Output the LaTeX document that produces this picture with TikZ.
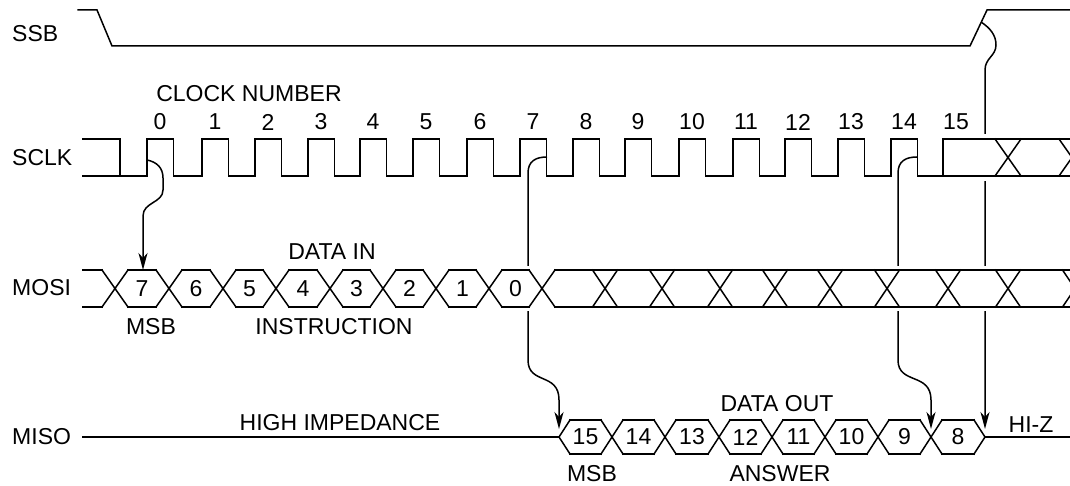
\documentclass[tikz,border=0pt]{standalone}
\usepackage{fontspec}
\setmainfont{Liberation Sans}
\usetikzlibrary{arrows.meta}
\begin{document}
\begin{tikzpicture}[x=1pt,y=-1pt,
  sig/.style={line width=1.5pt, line join=miter, line cap=rect},
  conn/.style={line width=1.5pt},
  arr/.style={conn,-{Stealth[length=17pt,width=9pt,inset=5pt]}},
  lbl/.style={font=\fontsize{23}{26}\selectfont, inner sep=0pt},
  knock/.style={fill=white, draw=none}]
\useasboundingbox (0,0) rectangle (1070,486);
\begin{scope}
\clip (0,0) rectangle (1070,486);

% ---- labels ----
\node[lbl, anchor=west] (lssb)  at (12,34)  {SSB};
\node[lbl, anchor=west] (lsclk) at (12,158) {SCLK};
\node[lbl, anchor=west] (lmosi) at (12,288) {MOSI};
\node[lbl, anchor=west] (lmiso) at (12,437) {MISO};
\node[lbl] (lclk) at (249,94) {CLOCK NUMBER};
\node[lbl] (ldin) at (332,252) {DATA IN};
\node[lbl] (lmsb1) at (151,327) {MSB};
\node[lbl] (linstr) at (334,327) {INSTRUCTION};
\node[lbl] (lhiz) at (340,423) {HIGH IMPEDANCE};
\node[lbl] (ldout) at (777,404) {DATA OUT};
\node[lbl] (lmsb2) at (592,474) {MSB};
\node[lbl] (lans) at (780,474) {ANSWER};
\node[lbl] (lhiz2) at (1031,425) {HI-Z};

% clock numbers
\foreach \r [count=\i from 0] in {147,202,255,308,360,413,467,520,573,625,679,733,785,838,891,943}
  \node[lbl] (n\i) at ({\r+13},122) {\i};

% ---- connector anchor points ----
\coordinate (s0) at (147,160);
\coordinate (s7) at (547,157);
\coordinate (s14) at (917,157);
\coordinate (sssb) at (981,22);
\coordinate (t7) at (143,270);
\coordinate (t15) at (559,429);
\coordinate (t9) at (931,429);
\coordinate (t8) at (985,429);

% ---- connectors ----
\draw[arr] (s0) .. controls (157,162) and (163,168) .. (163,178) -- (163,190)
  .. controls (163,203) and (143,202) .. (143,216) -- (t7);
\draw[arr] (s7) .. controls (536,157) and (528,161) .. (528,173) -- (528,360)
  .. controls (528,385) and (559,372) .. (559,400) -- (t15);
\draw[arr] (s14) .. controls (906,157) and (898,161) .. (898,173) -- (898,360)
  .. controls (898,385) and (931,372) .. (931,400) -- (t9);
\draw[arr] (sssb) .. controls (990,28) and (996,35) .. (996,45)
  .. controls (996,56) and (985,58) .. (985,70) -- (t8);

% knock-outs where connectors pass behind buses
\fill[knock] (980,134) rectangle (990,181);
\fill[knock] (523,266) rectangle (533,311);
\fill[knock] (893,266) rectangle (903,311);
\fill[knock] (980,266) rectangle (990,311);

% ---- SSB ----
\draw[sig] (78,10) -- (97,10) -- (112,46) -- (970,46) -- (987,10) -- (1075,10);

% ---- SCLK ----
\draw[sig] (83,139) -- (120,139) -- (120,176);
\draw[sig] (83,176)
  foreach \r in {147,202,255,308,360,413,467,520,573,625,679,733,785,838,891}
  { -- (\r,176) -- (\r,139) -- ({\r+26.5},139) -- ({\r+26.5},176) }
  -- (943,176) -- (943,139) -- (1075,139);
\draw[sig] (943,176) -- (1075,176);
\foreach \c in {1008,1072}
  \draw[sig] ({\c-13},139) -- ({\c+13},176) ({\c-13},176) -- ({\c+13},139);

% ---- MOSI ----
\draw[sig] (83,270) -- (102,270) (83,307) -- (102,307);
\foreach \c in {115,169,223,276,330,383,436,489,542}
  \draw[sig] ({\c-13},270) -- ({\c+13},307) ({\c-13},307) -- ({\c+13},270);
\foreach \a/\b/\d in {115/169/7,169/223/6,223/276/5,276/330/4,330/383/3,383/436/2,436/489/1,489/542/0}{
  \draw[sig] ({\a+13},270) -- ({\b-13},270) ({\a+13},307) -- ({\b-13},307);
  \node[lbl] (d\d) at ({(\a+\b)/2},288.5) {\d};
}
\draw[sig] (555,270) -- (1075,270) (555,307) -- (1075,307);
\foreach \c in {605,662,720,775,830,887,948,1008,1075}
  \draw[sig] ({\c-12.5},270) -- ({\c+12.5},307) ({\c-12.5},307) -- ({\c+12.5},270);

% ---- MISO ----
\draw[sig] (83,437) -- (559,437);
\draw[sig] (570,420) -- (559,437) -- (570,454);
\foreach \c in {612,665,719,772,825,878,931}
  \draw[sig] ({\c-11},420) -- ({\c+11},454) ({\c-11},454) -- ({\c+11},420);
\draw[sig] (974,420) -- (985,437) -- (974,454);
\draw[sig] (985,437) -- (1075,437);
\foreach \a/\b/\d in {559/612/15,612/665/14,665/719/13,719/772/12,772/825/11,825/878/10,878/931/9,931/985/8}{
  \draw[sig] ({\a+11},420) -- ({\b-11},420) ({\a+11},454) -- ({\b-11},454);
  \node[lbl] (o\d) at ({(\a+\b)/2},437) {\d};
}
\end{scope}
\end{tikzpicture}
\end{document}
